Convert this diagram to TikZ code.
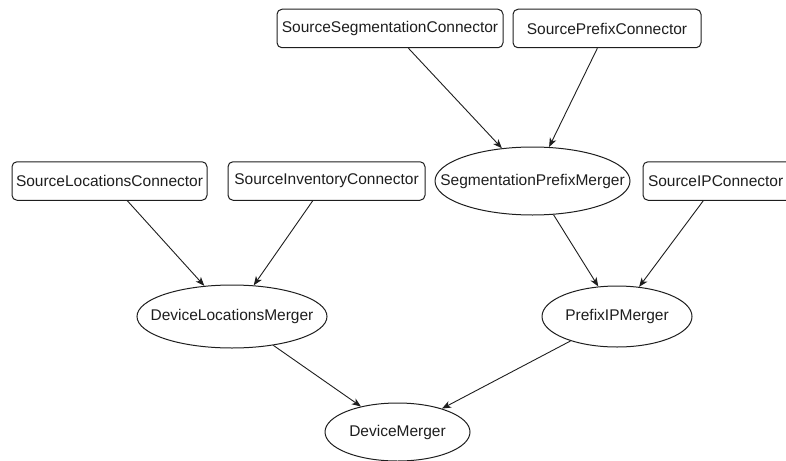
\documentclass[tikz,border=0pt]{standalone}
\usepackage{fontspec}
\setmainfont{Liberation Sans}
\usetikzlibrary{shapes.geometric,arrows.meta}
\definecolor{ink}{RGB}{30,30,30}
% a label of zero width, so that an ellipse takes its size from its minimum sizes alone
\newcommand{\mlabel}[1]{\makebox[0pt]{#1}}
\tikzset{
  every node/.style={font=\fontsize{15.5}{18}\selectfont, text=ink, inner sep=0pt},
  connector/.style={draw=ink, line width=1pt, rounded corners=5pt, rectangle, minimum height=38.5pt},
  merger/.style={draw=ink, line width=1pt, ellipse},
  flow/.style={draw=ink, line width=0.9pt, -{Stealth[length=9pt,width=7pt,inset=2.5pt]}}
}
\begin{document}
\begin{tikzpicture}[x=1pt,y=-1pt]
  \useasboundingbox (0,0) rectangle (786,460);

  % source connectors
  \node[connector, minimum width=226pt] (sseg) at (390,28.5) {SourceSegmentationConnector};
  \node[connector, minimum width=188pt] (spre) at (607,28.5) {SourcePrefixConnector};
  \node[connector, minimum width=195pt] (sloc) at (109.5,181) {SourceLocationsConnector};
  \node[connector, minimum width=197pt] (sinv) at (326.5,181) {SourceInventoryConnector};
  \node[connector, text width=140pt, inner xsep=5pt, align=left] (sip) at (718,181) {SourceIPConnector};

  % mergers
  \node[merger, minimum width=195pt, minimum height=68pt] (segpre) at (532.5,181) {\mlabel{SegmentationPrefixMerger}};
  \node[merger, minimum width=190pt, minimum height=63pt] (devloc) at (232,316.5) {\mlabel{DeviceLocationsMerger}};
  \node[merger, minimum width=150pt, minimum height=61pt] (preip)  at (617,316.5) {\mlabel{PrefixIPMerger}};
  \node[merger, minimum width=145pt, minimum height=58pt] (dev)    at (397.5,432) {\mlabel{DeviceMerger}};

  % data flow
  \draw[flow] (sseg) -- (segpre);
  \draw[flow] (spre) -- (segpre);
  \draw[flow] (sloc) -- (devloc);
  \draw[flow] (sinv) -- (devloc);
  \draw[flow] (segpre) -- (preip);
  \draw[flow] (sip) -- (preip);
  \draw[flow] (devloc) -- (dev);
  \draw[flow] (preip) -- (dev);
\end{tikzpicture}
\end{document}
